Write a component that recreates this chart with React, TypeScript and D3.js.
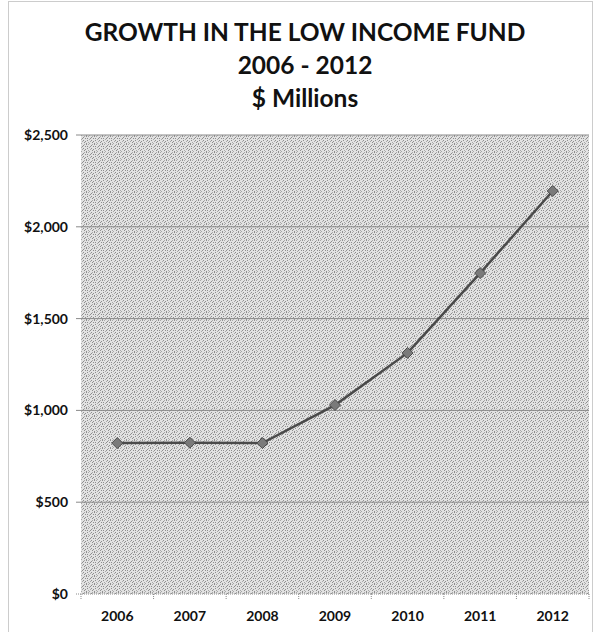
import React from "react";
import * as d3 from "d3";

const years = ["2006", "2007", "2008", "2009", "2010", "2011", "2012"];
const fundValues = [822, 824, 822, 1029, 1313, 1748, 2195];
const yTicks = [0, 500, 1000, 1500, 2000, 2500];
const titleLines = ["GROWTH IN THE LOW INCOME FUND", "2006 - 2012", "$ Millions"];

const W = 596;
const H = 632;
const plot = { left: 81, right: 589, top: 135, bottom: 594 };
const FONT = "Lato, 'Open Sans', sans-serif";
const ditherDots: [number, number][] = [
  [0, 0], [3, 1], [6, 0], [1, 3], [5, 2], [7, 4], [2, 5], [4, 6],
  [6, 7], [0, 6], [3, 4], [7, 2], [1, 7], [5, 5], [2, 2], [4, 0],
];

export default function App() {
  const x = d3.scaleBand<string>().domain(years).range([plot.left, plot.right]);
  const y = d3.scaleLinear().domain([0, 2500]).range([plot.bottom, plot.top]);
  const cx = (d: string) => (x(d) as number) + x.bandwidth() / 2;
  const line = d3
    .line<number>()
    .x((_, i) => cx(years[i]))
    .y((v) => y(v));
  const fmt = (v: number) => "$" + d3.format(",")(v);
  const boundaries = years.map((d) => x(d) as number).concat([plot.right]);

  return (
    <svg width={W} height={H} style={{ position: "absolute", left: 0, top: 0 }}>
      <defs>
        <pattern id="dither" width="8" height="8" patternUnits="userSpaceOnUse">
          <rect width="8" height="8" fill="#e2e2e2" />
          {ditherDots.map(([dx, dy], i) => (
            <rect key={i} x={dx} y={dy} width="1" height="1" fill={i % 3 === 0 ? "#a8a8a8" : "#8e8e8e"} />
          ))}
        </pattern>
      </defs>
      <rect x={0} y={0} width={W} height={H} fill="#fff" />
      <rect
        x={8.5}
        y={1.5}
        width={584}
        height={H + 4}
        fill="none"
        stroke="#999"
        strokeDasharray="1 1"
      />
      {titleLines.map((t, i) => (
        <text
          key={i}
          x={305}
          y={41 + i * 33}
          textAnchor="middle"
          fontFamily={FONT}
          fontWeight={700}
          fontSize={24.5}
          fill="#111"
        >
          {t}
        </text>
      ))}
      <rect
        x={plot.left}
        y={plot.top}
        width={plot.right - plot.left}
        height={plot.bottom - plot.top}
        fill="url(#dither)"
      />
      {yTicks.map((t) => (
        <g key={t}>
          <line
            x1={plot.left - 5}
            x2={plot.right}
            y1={y(t)}
            y2={y(t)}
            stroke="#8a8a8a"
            strokeWidth={1}
            strokeDasharray={t === 0 ? "1 1" : undefined}
          />
          <text
            x={68}
            y={y(t)}
            dy="0.35em"
            textAnchor="end"
            fontFamily={FONT}
            fontWeight={700}
            fontSize={14}
            fill="#111"
          >
            {fmt(t)}
          </text>
        </g>
      ))}
      {boundaries.map((b, i) => (
        <line
          key={i}
          x1={b}
          x2={b}
          y1={plot.bottom}
          y2={plot.bottom + 5}
          stroke="#8a8a8a"
          strokeDasharray="1 1"
        />
      ))}
      {years.map((d) => (
        <text
          key={d}
          x={cx(d)}
          y={616}
          dy="0.35em"
          textAnchor="middle"
          fontFamily={FONT}
          fontWeight={700}
          fontSize={14}
          fill="#111"
        >
          {d}
        </text>
      ))}
      <path d={line(fundValues) || ""} fill="none" stroke="#4a4a4a" strokeWidth={2.5} />
      {fundValues.map((v, i) => {
        const px = cx(years[i]);
        const py = y(v);
        const r = 5.5;
        return (
          <path
            key={i}
            d={`M${px},${py - r}L${px + r},${py}L${px},${py + r}L${px - r},${py}Z`}
            fill="#7a7a7a"
            stroke="#4a4a4a"
            strokeWidth={1}
          />
        );
      })}
    </svg>
  );
}
